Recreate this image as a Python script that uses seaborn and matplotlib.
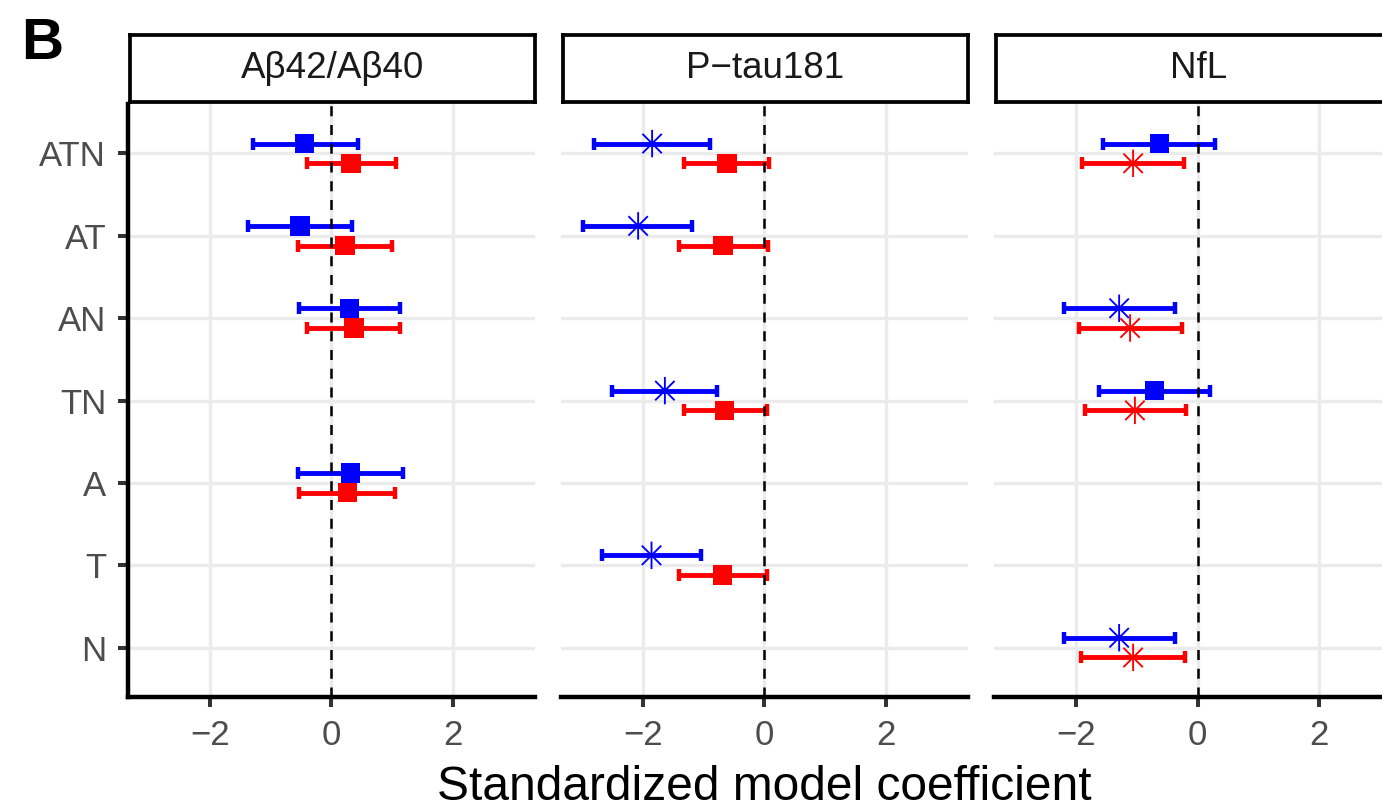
import numpy as np
import pandas as pd
import matplotlib
matplotlib.use("Agg")
import matplotlib.pyplot as plt
from matplotlib.path import Path
import seaborn as sns

# ---------------- data ----------------
biomarkers = ["Aβ42/Aβ40", "P\u2212tau181", "NfL"]
categories = ["ATN", "AT", "AN", "TN", "A", "T", "N"]
groups = ["Group 1", "Group 2"]
group_colors = {"Group 1": "#0000FF", "Group 2": "#FF0000"}

panel = (["Aβ42/Aβ40"] * 8 + ["P\u2212tau181"] * 8 + ["NfL"] * 8)
category = ["ATN", "ATN", "AT", "AT", "AN", "AN", "A", "A",
            "ATN", "ATN", "AT", "AT", "TN", "TN", "T", "T",
            "ATN", "ATN", "AN", "AN", "TN", "TN", "N", "N"]
group = ["Group 1", "Group 2"] * 12
estimate = [-0.44, 0.32, -0.52, 0.22, 0.30, 0.37, 0.31, 0.26,
            -1.85, -0.62, -2.08, -0.68, -1.64, -0.66, -1.86, -0.69,
            -0.63, -1.06, -1.29, -1.11, -0.71, -1.03, -1.29, -1.06]
lower = [-1.30, -0.41, -1.38, -0.55, -0.53, -0.40, -0.55, -0.53,
         -2.81, -1.32, -2.98, -1.40, -2.51, -1.33, -2.68, -1.40,
         -1.56, -1.90, -2.20, -1.95, -1.62, -1.86, -2.20, -1.91]
upper = [0.43, 1.06, 0.34, 0.99, 1.12, 1.12, 1.17, 1.05,
         -0.90, 0.07, -1.20, 0.05, -0.78, 0.04, -1.04, 0.04,
         0.29, -0.23, -0.37, -0.25, 0.21, -0.19, -0.37, -0.21]
significant = [False, False, False, False, False, False, False, False,
               True, False, True, False, True, False, True, False,
               False, True, True, True, False, True, True, True]
x_ticks = [-2, 0, 2]
x_tick_labels = ["\u22122", "0", "2"]

df = pd.DataFrame({"panel": panel, "category": category, "group": group,
                   "estimate": estimate, "lower": lower, "upper": upper,
                   "significant": significant})
dodge = {"Group 1": -0.12, "Group 2": 0.12}
df["ypos"] = df["category"].map({c: i for i, c in enumerate(categories)}) + df["group"].map(dodge)

# ---------------- style ----------------
sns.set_style("white")
plt.rcParams["font.family"] = ["Liberation Sans", "DejaVu Sans"]

W, H = 1382, 808
fig = plt.figure(figsize=(W / 100, H / 100), dpi=100)


def px_rect(l, t, r, b):
    return [l / W, 1 - b / H, (r - l) / W, (b - t) / H]


# asterisk marker (ggplot shape 8: plus + cross)
d = 0.7071
star_path = Path(
    [(0, -1), (0, 1), (-1, 0), (1, 0), (-d, -d), (d, d), (-d, d), (d, -d)],
    [Path.MOVETO, Path.LINETO] * 4,
)

panel_left = [128, 561, 994]
panel_w = 407
top, bottom = 104, 697
xlim = (-3.35, 3.35)

for i, bm in enumerate(biomarkers):
    l = panel_left[i]
    ax = fig.add_axes(px_rect(l, top, l + panel_w, bottom))
    sub = df[df["panel"] == bm]

    # grid
    ax.set_axisbelow(True)
    ax.grid(True, color="#EBEBEB", linewidth=2.4)

    # error bars
    for g in groups:
        s = sub[sub["group"] == g]
        ax.errorbar(x=s["estimate"], y=s["ypos"],
                    xerr=[s["estimate"] - s["lower"], s["upper"] - s["estimate"]],
                    fmt="none", ecolor=group_colors[g], elinewidth=3.5,
                    capsize=4.4, capthick=3.2, zorder=3)

    ax.axvline(0, color="black", linewidth=1.8, linestyle=(0, (4, 3.5)), zorder=3.5)

    sq = sub[~sub["significant"]]
    st = sub[sub["significant"]]
    if len(sq):
        sns.scatterplot(data=sq, x="estimate", y="ypos", hue="group",
                        palette=group_colors, hue_order=groups, marker="s",
                        s=195, linewidth=0, legend=False, ax=ax, zorder=4)
    if len(st):
        sns.scatterplot(data=st, x="estimate", y="ypos", hue="group",
                        palette=group_colors, hue_order=groups, marker=star_path,
                        s=390, edgecolor="face", linewidth=1.35, legend=False,
                        ax=ax, zorder=4)

    ax.set_xlim(*xlim)
    ax.set_ylim(len(categories) - 1 + 0.6, -0.6)
    ax.set_xticks(x_ticks)
    ax.set_xticklabels(x_tick_labels)
    ax.set_yticks(range(len(categories)))
    ax.set_xlabel("")
    ax.set_ylabel("")

    for sp in ["top", "right"]:
        ax.spines[sp].set_visible(False)
    ax.spines["bottom"].set_linewidth(3.2)
    ax.spines["bottom"].set_color("black")
    ax.tick_params(axis="x", length=7.2, width=2.9, color="#333333",
                   labelsize=25, labelcolor="#4D4D4D", pad=8.5, bottom=True)
    if i == 0:
        ax.set_yticklabels(categories)
        ax.spines["left"].set_linewidth(3.2)
        ax.spines["left"].set_color("black")
        ax.tick_params(axis="y", length=7.2, width=2.9, color="#333333",
                       labelsize=25, labelcolor="#4D4D4D", pad=8.5, left=True)
    else:
        ax.spines["left"].set_visible(False)
        ax.set_yticklabels([])
        ax.tick_params(axis="y", length=0, left=False)

    # strip
    sax = fig.add_axes(px_rect(l + 1.5, 35, l + panel_w, 102))
    sax.set_xticks([])
    sax.set_yticks([])
    sax.set_facecolor("white")
    for sp in sax.spines.values():
        sp.set_linewidth(2.7)
        sp.set_color("black")
        sp.set_visible(True)
    sax.text(0.5, 0.5, bm, ha="center", va="center", fontsize=26.5,
             color="#1A1A1A", transform=sax.transAxes)

fig.text(764.5 / W, 1 - 800 / H, "Standardized model coefficient",
         ha="center", va="baseline", fontsize=34.5, color="black")
fig.text(21 / W, 1 - 59 / H, "B", ha="left", va="baseline",
         fontsize=42, fontweight="bold", color="black")

fig.savefig("out.png", dpi=100)
